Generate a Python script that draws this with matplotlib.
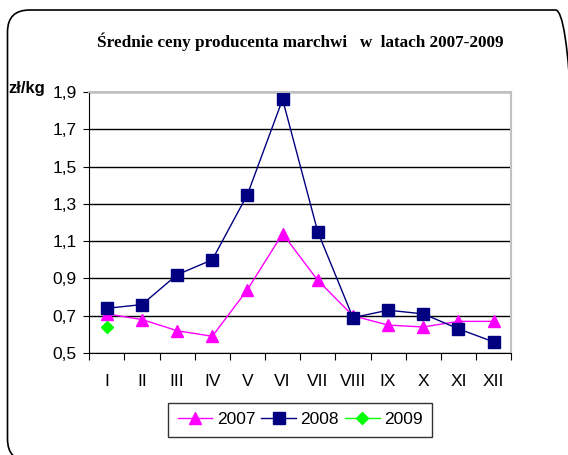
import numpy as np
import matplotlib.pyplot as plt
from matplotlib.patches import FancyBboxPatch

months = ['I', 'II', 'III', 'IV', 'V', 'VI', 'VII', 'VIII', 'IX', 'X', 'XI', 'XII']
ceny_2007 = [0.71, 0.68, 0.62, 0.59, 0.84, 1.14, 0.89, 0.70, 0.65, 0.64, 0.67, 0.67]
ceny_2008 = [0.74, 0.76, 0.92, 1.00, 1.35, 1.86, 1.15, 0.69, 0.73, 0.71, 0.63, 0.56]
ceny_2009 = [0.64]

fig = plt.figure(figsize=(5.68, 4.55), dpi=100)
ax = fig.add_axes([0.157, 0.224, 0.743, 0.574])

x = np.arange(len(months)) + 0.5
ax.plot(x, ceny_2007, color='#FF00FF', lw=1, marker='^', ms=9, label='2007')
ax.plot(x, ceny_2008, color='#000080', lw=1, marker='s', ms=9, label='2008')
ax.plot(x[:len(ceny_2009)], ceny_2009, color='#00FF00', lw=1, marker='D', ms=6, label='2009')

ax.set_xlim(0, 12)
ax.set_ylim(0.5, 1.9)
yt = np.arange(0.5, 1.91, 0.2)
ax.set_yticks(yt)
ax.set_yticklabels([f'{v:.1f}'.replace('.', ',') for v in yt], fontsize=12.5, family='Liberation Sans')
ax.set_xticks(np.arange(13))
ax.set_xticklabels([])
ax.set_xticks(x, minor=True)
ax.set_xticklabels(months, minor=True, fontsize=12.5, family='Liberation Sans')
ax.tick_params(axis='x', which='minor', length=0, pad=15)
ax.tick_params(axis='x', which='major', length=5, direction='out')
ax.tick_params(axis='y', length=4, direction='out', pad=5)

ax.yaxis.grid(True, color='black', lw=1)
ax.set_axisbelow(True)
for s in ['top', 'right']:
    ax.spines[s].set_color('#C0C0C0')
ax.spines['top'].set_linewidth(1.5)
ax.spines['right'].set_linewidth(1.5)

fig.text(0.528, 0.908, 'Średnie ceny producenta marchwi   w  latach 2007-2009',
         ha='center', va='center', fontsize=12.3, fontweight='bold', family='Liberation Serif')
fig.text(0.014, 0.806, 'zł/kg', ha='left', va='center', fontsize=12,
         fontweight='bold', family='Liberation Sans')

leg = ax.legend(loc='upper center', bbox_to_anchor=(0.5, -0.19), ncol=3,
                frameon=True, fancybox=False, edgecolor='black',
                prop={'family': 'Liberation Sans', 'size': 12.5},
                handlelength=2.0, columnspacing=0.35, handletextpad=0.25,
                borderpad=0.55, borderaxespad=0)
leg.get_frame().set_linewidth(1)

# rounded outer border of the chart area
frame = FancyBboxPatch((0.075, -0.06), 5.7, 4.51, boxstyle='round,pad=0,rounding_size=0.22',
                       transform=fig.dpi_scale_trans, fill=False, edgecolor='black', lw=1.2)
fig.patches.append(frame)

fig.savefig('out.png', dpi=100)
